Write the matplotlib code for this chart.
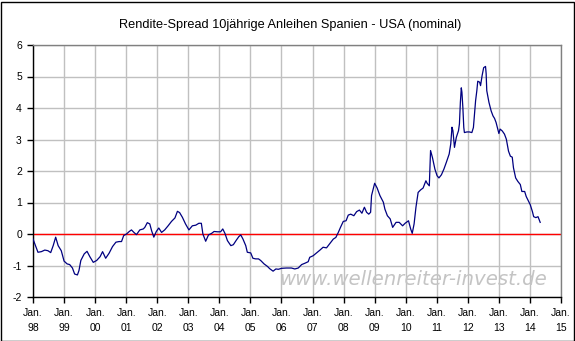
import matplotlib
matplotlib.use("Agg")
import matplotlib.pyplot as plt
from matplotlib.patches import Rectangle

plt.rcParams['font.family'] = ['Liberation Sans', 'DejaVu Sans']

title = "Rendite-Spread 10jährige Anleihen Spanien - USA (nominal)"
watermark = "www.wellenreiter-invest.de"

years = [
    1998.00, 1998.16, 1998.27, 1998.38, 1998.48, 1998.57, 1998.65, 1998.73, 1998.81, 1998.91,
    1999.00, 1999.10, 1999.18, 1999.27, 1999.34, 1999.43, 1999.48, 1999.54, 1999.65, 1999.74,
    1999.83, 1999.94, 2000.05, 2000.16, 2000.24, 2000.34, 2000.45, 2000.56, 2000.67, 2000.77,
    2000.85, 2000.92, 2001.01, 2001.10, 2001.17, 2001.25, 2001.33, 2001.44, 2001.55, 2001.60,
    2001.68, 2001.76, 2001.82, 2001.89, 2001.97, 2002.05, 2002.14, 2002.24, 2002.35, 2002.46,
    2002.57, 2002.65, 2002.72, 2002.81, 2002.91, 2003.02, 2003.13, 2003.24, 2003.34, 2003.42,
    2003.47, 2003.56, 2003.65, 2003.75, 2003.83, 2003.94, 2004.04, 2004.11, 2004.18, 2004.26,
    2004.37, 2004.45, 2004.55, 2004.63, 2004.69, 2004.76, 2004.85, 2004.90, 2005.01, 2005.08,
    2005.17, 2005.26, 2005.33, 2005.44, 2005.55, 2005.62, 2005.73, 2005.82, 2005.90, 2006.00,
    2006.16, 2006.32, 2006.43, 2006.54, 2006.65, 2006.75, 2006.86, 2006.91, 2007.02, 2007.13,
    2007.24, 2007.34, 2007.45, 2007.56, 2007.67, 2007.75, 2007.83, 2007.90, 2007.99, 2008.08,
    2008.15, 2008.23, 2008.33, 2008.42, 2008.51, 2008.59, 2008.67, 2008.74, 2008.81, 2008.87,
    2008.90, 2009.00, 2009.08, 2009.17, 2009.28, 2009.33, 2009.41, 2009.50, 2009.58, 2009.69,
    2009.79, 2009.90, 2009.98, 2010.09, 2010.16, 2010.21, 2010.27, 2010.33, 2010.40, 2010.48,
    2010.56, 2010.65, 2010.69, 2010.76, 2010.80, 2010.86, 2010.94, 2011.01, 2011.07, 2011.15,
    2011.23, 2011.31, 2011.40, 2011.45, 2011.49, 2011.52, 2011.57, 2011.63, 2011.70, 2011.73,
    2011.76, 2011.79, 2011.81, 2011.84, 2011.87, 2011.89, 2011.97, 2012.05, 2012.13, 2012.18,
    2012.25, 2012.29, 2012.32, 2012.38, 2012.41, 2012.46, 2012.51, 2012.57, 2012.59, 2012.61,
    2012.68, 2012.75, 2012.81, 2012.86, 2012.91, 2012.95, 2013.00, 2013.04, 2013.11, 2013.18,
    2013.24, 2013.31, 2013.37, 2013.43, 2013.47, 2013.54, 2013.61, 2013.69, 2013.74, 2013.83,
    2013.88, 2013.96, 2014.01, 2014.08, 2014.12, 2014.19, 2014.26, 2014.33,
]
spread = [
    -0.16, -0.58, -0.56, -0.51, -0.53, -0.59, -0.37, -0.10, -0.37, -0.53,
    -0.86, -0.95, -0.97, -1.08, -1.27, -1.30, -1.16, -0.84, -0.63, -0.55,
    -0.72, -0.90, -0.84, -0.72, -0.56, -0.77, -0.61, -0.40, -0.26, -0.24,
    -0.24, -0.05, 0.00, 0.08, 0.13, 0.05, -0.02, 0.13, 0.16, 0.21,
    0.36, 0.32, 0.10, -0.10, 0.08, 0.19, 0.05, 0.13, 0.26, 0.40,
    0.51, 0.72, 0.68, 0.53, 0.32, 0.13, 0.26, 0.28, 0.34, 0.34,
    0.00, -0.23, -0.03, 0.02, 0.08, 0.07, 0.07, 0.16, 0.02, -0.21,
    -0.37, -0.34, -0.19, -0.08, -0.03, -0.16, -0.37, -0.58, -0.60, -0.77,
    -0.79, -0.79, -0.84, -0.95, -1.03, -1.10, -1.18, -1.11, -1.12, -1.09,
    -1.08, -1.08, -1.11, -1.08, -0.97, -0.93, -0.88, -0.74, -0.69, -0.60,
    -0.51, -0.42, -0.44, -0.30, -0.16, -0.11, 0.05, 0.21, 0.40, 0.42,
    0.60, 0.63, 0.58, 0.71, 0.76, 0.66, 0.85, 0.69, 0.63, 0.69,
    1.22, 1.61, 1.46, 1.22, 1.01, 0.79, 0.58, 0.48, 0.21, 0.37,
    0.37, 0.26, 0.34, 0.42, 0.16, 0.02, 0.32, 0.85, 1.32, 1.40,
    1.46, 1.69, 1.61, 1.53, 2.65, 2.43, 2.06, 1.85, 1.78, 1.88,
    2.06, 2.28, 2.54, 2.86, 3.39, 3.28, 2.75, 3.07, 3.28, 3.50,
    4.18, 4.64, 4.50, 4.02, 3.38, 3.22, 3.24, 3.24, 3.22, 3.38,
    4.23, 4.55, 4.85, 4.82, 4.71, 5.03, 5.28, 5.32, 5.09, 4.55,
    4.18, 3.91, 3.75, 3.67, 3.54, 3.38, 3.19, 3.33, 3.27, 3.17,
    3.01, 2.63, 2.47, 2.44, 2.10, 1.78, 1.67, 1.57, 1.35, 1.35,
    1.19, 1.03, 0.93, 0.71, 0.55, 0.52, 0.55, 0.37,
]

tick_years = list(range(1998, 2016))
tick_labels = ["Jan.\n%02d" % (y % 100) for y in tick_years]
y_ticks = [-2, -1, 0, 1, 2, 3, 4, 5, 6]

W, H = 575, 341
fig = plt.figure(figsize=(W / 100, H / 100), dpi=100)
fig.patches.append(Rectangle((0.5 / W, 0.5 / H), (W - 2) / W, (H - 2) / H,
                             transform=fig.transFigure, fill=False,
                             edgecolor='black', linewidth=1.0))

L, R, T, B = 33, 561, 45, 297
ax = fig.add_axes([L / W, (H - B) / H, (R - L) / W, (B - T) / H])

ax.set_xlim(1998, 2015)
ax.set_ylim(-2, 6)
ax.set_xticks(tick_years)
ax.set_xticklabels(tick_labels, fontsize=7.5, linespacing=1.6)
ax.set_yticks(y_ticks)
ax.set_yticklabels([str(v) for v in y_ticks], fontsize=7.5)
ax.grid(True, color='#c0c0c0', linewidth=1.0)
ax.set_axisbelow(True)
ax.tick_params(axis='both', direction='out', length=4, width=1, color='black')
ax.tick_params(axis='x', pad=4)
ax.tick_params(axis='y', pad=4)

for s in ['left', 'bottom']:
    ax.spines[s].set_color('black')
    ax.spines[s].set_linewidth(1.0)
for s in ['top', 'right']:
    ax.spines[s].set_color('#808080')
    ax.spines[s].set_linewidth(1.0)

ax.text((547 - L) / (R - L), (B - 285) / (B - T), watermark, transform=ax.transAxes,
        ha='right', va='baseline', fontsize=14.2, style='italic',
        family='DejaVu Sans', color='#c4c4c4', zorder=1)

ax.axhline(0, color='#ff0000', linewidth=1.0, zorder=2)
ax.plot(years, spread, color='#000080', linewidth=0.9, zorder=3)

fig.text(290 / W, 1 - 28 / H, title, ha='center', va='baseline', fontsize=9.2)

fig.savefig('out.png', dpi=100)
